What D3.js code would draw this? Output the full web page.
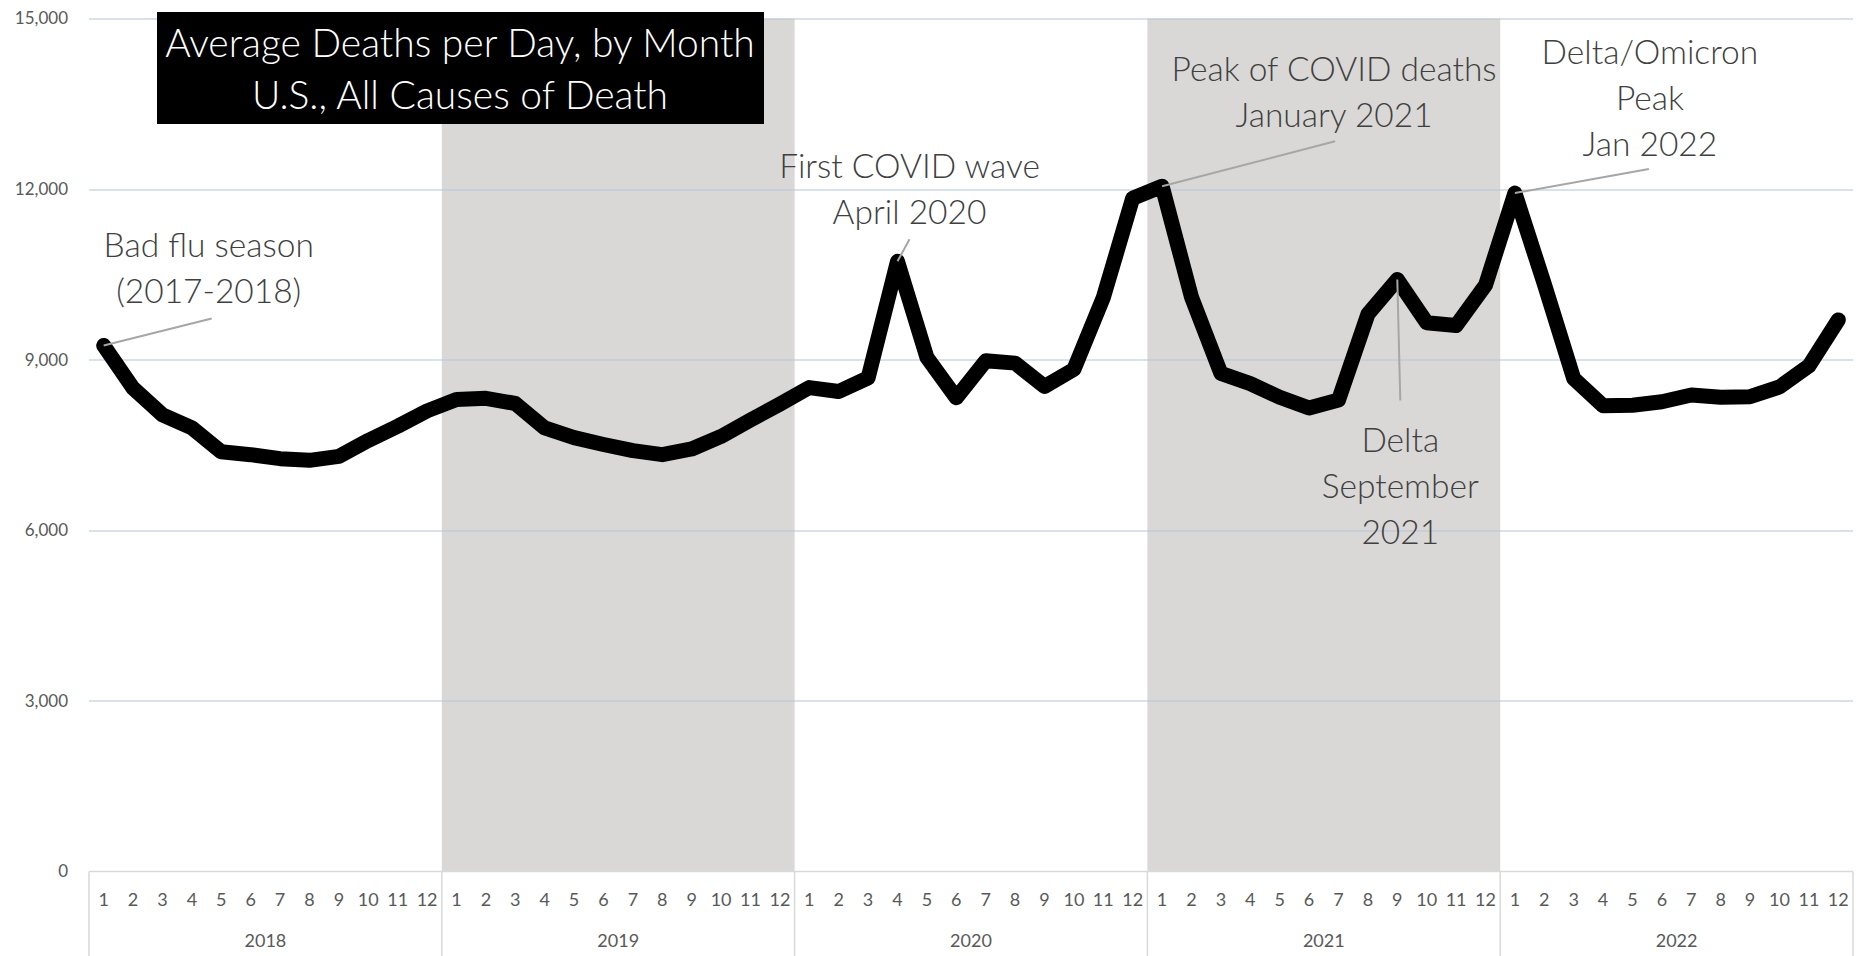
<!DOCTYPE html>
<html>
<head>
<meta charset="utf-8">
<script src="https://cdn.jsdelivr.net/npm/d3@7"></script>
<style>
  body { margin: 0; background: #fff; }
  svg { display: block; font-family: "Lato", "Open Sans", sans-serif; }
</style>
</head>
<body>
<svg id="chart"></svg>
<script>
// data
var years = [2018, 2019, 2020, 2021, 2022];
var monthLabels = ["1", "2", "3", "4", "5", "6", "7", "8", "9", "10", "11", "12"];
var shadedYears = [2019, 2021];
var yTicks = [0, 3000, 6000, 9000, 12000, 15000];

var deaths2018 = [9250, 8500, 8030, 7800, 7380, 7330, 7260, 7230, 7300, 7580, 7830, 8100];
var deaths2019 = [8300, 8320, 8230, 7800, 7630, 7510, 7400, 7330, 7430, 7650, 7940, 8220];
var deaths2020 = [8510, 8440, 8680, 10730, 9040, 8330, 8980, 8940, 8530, 8830, 10090, 11840];
var deaths2021 = [12050, 10100, 8760, 8580, 8340, 8150, 8290, 9800, 10410, 9650, 9600, 10310];
var deaths2022 = [11930, 10330, 8670, 8190, 8200, 8260, 8380, 8340, 8350, 8520, 8890, 9700];

var titleLines = ["Average Deaths per Day, by Month", "U.S., All Causes of Death"];

// annotations: which point they point at, and their text
var notes = [
    { year: 2018, month: 1, lines: ["Bad flu season", "(2017-2018)"] },
    { year: 2020, month: 4, lines: ["First COVID wave", "April 2020"] },
    { year: 2021, month: 1, lines: ["Peak of COVID deaths", "January 2021"] },
    { year: 2021, month: 9, lines: ["Delta", "September", "2021"] },
    { year: 2022, month: 1, lines: ["Delta/Omicron", "Peak", "Jan 2022"] }
];
// label placement relative to the point (text centre x, first baseline, leader start)
var noteLayout = [
    { dx: 105, dy: -88, lx: 108, ly: -27 },
    { dx: 12, dy: -83, lx: 12, ly: -22 },
    { dx: 172, dy: -105, lx: 173, ly: -45 },
    { dx: 3, dy: 172, lx: 3, ly: 121 },
    { dx: 135, dy: -129, lx: 134, ly: -24 }
];

var W = 1864, H = 956;
var margin = { top: 18.5, right: 11, bottom: 84.5, left: 89 };
var width = W - margin.left - margin.right,
    height = H - margin.top - margin.bottom;

var series = [deaths2018, deaths2019, deaths2020, deaths2021, deaths2022];
var points = [];
years.forEach(function (yr, yi) {
    series[yi].forEach(function (v, mi) {
        points.push({ key: yr + "-" + (mi + 1), year: yr, month: mi + 1, value: v });
    });
});

var svg = d3.select("#chart").attr("width", W).attr("height", H);
var g = svg.append("g").attr("transform", "translate(" + margin.left + "," + margin.top + ")");

var x = d3.scaleBand()
    .domain(points.map(function (d) { return d.key; }))
    .range([0, width])
    .padding(0);
var xYear = d3.scaleBand()
    .domain(years)
    .range([0, width])
    .padding(0);
var y = d3.scaleLinear()
    .domain([0, 15000])
    .range([height, 0]);

function px(d) { return x(d.key) + x.bandwidth() / 2; }

// shaded years
g.selectAll(".shade")
    .data(shadedYears)
    .enter().append("rect")
    .attr("x", function (d) { return xYear(d); })
    .attr("y", 0)
    .attr("width", xYear.bandwidth())
    .attr("height", height)
    .attr("fill", "#d9d8d6");

// gridlines
g.selectAll(".grid")
    .data(yTicks.filter(function (t) { return t > 0; }))
    .enter().append("line")
    .attr("x1", 0).attr("x2", width)
    .attr("y1", function (d) { return Math.round(y(d)) + 0.5; })
    .attr("y2", function (d) { return Math.round(y(d)) + 0.5; })
    .attr("stroke", "#b3c6d8")
    .attr("stroke-width", 1.2);

// y labels
g.selectAll(".ylab")
    .data(yTicks)
    .enter().append("text")
    .attr("x", -21)
    .attr("y", function (d) { return y(d); })
    .attr("dy", "0.35em")
    .attr("text-anchor", "end")
    .attr("fill", "#595959")
    .style("font-size", "17px")
    .text(function (d) { return d3.format(",")(d); });

// x axis line and year separators
g.append("line")
    .attr("x1", 0).attr("x2", width)
    .attr("y1", height).attr("y2", height)
    .attr("stroke", "#d9d9d9").attr("stroke-width", 1.5);

var seps = years.map(function (yr) { return xYear(yr); }).concat([width]);
g.selectAll(".sep")
    .data(seps)
    .enter().append("line")
    .attr("x1", function (d) { return d; }).attr("x2", function (d) { return d; })
    .attr("y1", height).attr("y2", H - margin.top)
    .attr("stroke", "#d9d9d9").attr("stroke-width", 1.5);

g.selectAll(".mlab")
    .data(points)
    .enter().append("text")
    .attr("x", px)
    .attr("y", height + 28)
    .attr("dy", "0.35em")
    .attr("text-anchor", "middle")
    .attr("fill", "#595959")
    .style("font-size", "18px")
    .text(function (d) { return monthLabels[d.month - 1]; });

g.selectAll(".ylabel")
    .data(years)
    .enter().append("text")
    .attr("x", function (d) { return xYear(d) + xYear.bandwidth() / 2; })
    .attr("y", height + 69)
    .attr("dy", "0.35em")
    .attr("text-anchor", "middle")
    .attr("fill", "#595959")
    .style("font-size", "18px")
    .text(function (d) { return d; });

// the line
var line = d3.line()
    .x(px)
    .y(function (d) { return y(d.value); });

g.append("path")
    .datum(points)
    .attr("d", line)
    .attr("fill", "none")
    .attr("stroke", "#000")
    .attr("stroke-width", 15)
    .attr("stroke-linejoin", "round")
    .attr("stroke-linecap", "round");

// annotations
notes.forEach(function (n, i) {
    var p = points.find(function (d) { return d.year === n.year && d.month === n.month; });
    var cx = px(p), cy = y(p.value), L = noteLayout[i];
    g.append("line")
        .attr("x1", cx + L.lx).attr("y1", cy + L.ly)
        .attr("x2", cx).attr("y2", cy)
        .attr("stroke", "#a6a6a6").attr("stroke-width", 2);
    var t = g.append("text")
        .attr("text-anchor", "middle")
        .attr("fill", "#404040")
        .style("font-size", "33.5px")
        .style("font-weight", 300);
    n.lines.forEach(function (s, k) {
        t.append("tspan")
            .attr("x", cx + L.dx)
            .attr("y", cy + L.dy + k * 46)
            .text(s);
    });
});

// title box
var title = svg.append("g");
title.append("rect")
    .attr("x", 157).attr("y", 12)
    .attr("width", 607).attr("height", 112)
    .attr("fill", "#000");
title.selectAll("text")
    .data(titleLines)
    .enter().append("text")
    .attr("x", 460)
    .attr("y", function (d, i) { return 57 + i * 52; })
    .attr("text-anchor", "middle")
    .attr("fill", "#fff")
    .style("font-size", "39px")
    .style("font-weight", 300)
    .text(function (d) { return d; });
</script>
</body>
</html>
